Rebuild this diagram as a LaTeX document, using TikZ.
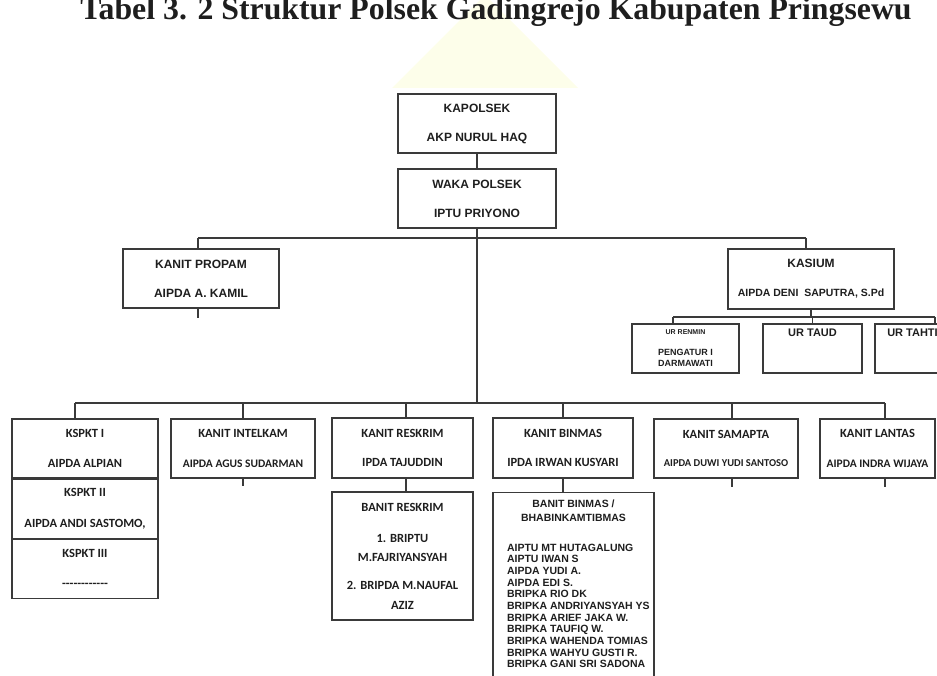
\documentclass[tikz,border=0pt]{standalone}
\usepackage{fontspec}
\setmainfont{Liberation Serif}
\newfontfamily\arialfont{Liberation Sans}
\newfontfamily\calibfont{Carlito}
\definecolor{ink}{HTML}{1E1E1E}
\definecolor{edge}{HTML}{3A3A3A}
\definecolor{wmark}{RGB}{253,254,234}
\tikzset{
	box/.style={draw=edge,line width=1.1pt,inner sep=0pt,align=center,text=ink},
	topfont/.style={font=\arialfont\bfseries\fontsize{12}{14}\selectfont},
	lowfont/.style={font=\calibfont\bfseries\fontsize{12.5}{15}\selectfont},
	link/.style={draw=edge,line width=1.1pt},
}
\begin{document}
\begin{tikzpicture}[x=1pt,y=-1pt]
			\clip (0,0) rectangle (937,676);
			\fill[wmark] (485,-5) -- (578,88) -- (392,88) -- cycle;
			\node[anchor=base,text=ink,font=\bfseries\fontsize{31.8}{36}\selectfont] (title) at (496,19.5) {Tabel 3. 2 Struktur Polsek Gadingrejo Kabupaten Pringsewu};
			%TOP
			\node[box,topfont,minimum width=158pt,minimum height=59pt] (kapolsek) at (477,123.5) {KAPOLSEK\\[15pt]AKP NURUL HAQ};
			\node[box,topfont,minimum width=158pt,minimum height=59pt] (waka) at (477,198.5) {WAKA POLSEK\\[15pt]IPTU PRIYONO};
			\node[box,topfont,minimum width=156pt,minimum height=59pt] (propam) at (201,278.5) {KANIT PROPAM\\[15pt]AIPDA A. KAMIL};
			\node[box,topfont,minimum width=166pt,minimum height=60pt] (kasium) at (811,279) {KASIUM\\[15pt]{\fontsize{10.5}{12}\selectfont AIPDA DENI\ \ SAPUTRA, S.Pd}};
			\draw[link] (kapolsek) -- (waka);
			\coordinate (topbusL) at (198,238);
			\coordinate (topbusR) at (806,238);
			\draw[link] (topbusL) -- (topbusR);
			\draw[link] (topbusL) -- (topbusL |- propam.north);
			\draw[link] (topbusR) -- (topbusR |- kasium.north);
			\draw[link] (topbusL |- propam.south) -- ++(0,9);
			%KASIUM
			\node[box,font=\arialfont\bfseries\fontsize{9}{11}\selectfont,minimum width=107pt,minimum height=49pt] (renmin) at (685.5,348.5) {{\fontsize{7}{8}\selectfont UR RENMIN}\\[10pt]PENGATUR I\\DARMAWATI};
			\node[box,font=\arialfont\bfseries\fontsize{11}{13}\selectfont,minimum width=99pt,minimum height=49pt,text height=12pt,text depth=37pt] (taud) at (812.5,348.5) {UR TAUD};
			\node[box,font=\arialfont\bfseries\fontsize{11}{13}\selectfont,minimum width=75pt,minimum height=49pt,text height=12pt,text depth=37pt] (tahti) at (912.5,348.5) {UR TAHTI};
			\coordinate (urbusL) at (673,317);
			\coordinate (urbusR) at (935,317);
			\draw[link] (kasium.south) -- (kasium.south |- urbusL);
			\draw[link] (urbusL) -- (urbusR);
			\draw[link] (urbusL) -- (urbusL |- renmin.north);
			\draw[link] (taud.north |- urbusL) -- (taud.north);
			\draw[link] (urbusR) -- (urbusR |- tahti.north);
			%BOTTOM ROW
			\node[box,lowfont,minimum width=146pt,minimum height=59pt] (kspktA) at (85,448.5) {KSPKT I\\[15pt]AIPDA ALPIAN};
			\node[box,lowfont,minimum width=146pt,minimum height=59pt,anchor=north] (kspktB) at (kspktA.south) {KSPKT II\\[16pt]AIPDA ANDI SASTOMO,};
			\node[box,lowfont,minimum width=146pt,minimum height=59pt,anchor=north] (kspktC) at (kspktB.south) {KSPKT III\\[15pt]------------};
			\node[box,lowfont,minimum width=144pt,minimum height=59pt] (intelkam) at (243,448.5) {KANIT INTELKAM\\[15pt]{\fontsize{11.5}{13}\selectfont AIPDA AGUS SUDARMAN}};
			\node[box,lowfont,minimum width=141pt,minimum height=60pt] (reskrim) at (402.5,448) {KANIT RESKRIM\\[14pt]IPDA TAJUDDIN};
			\node[box,lowfont,minimum width=141pt,minimum height=128pt] (banitres) at (402.5,556) {BANIT RESKRIM\\[16pt]1. BRIPTU\\[4pt]M.FAJRIYANSYAH\\[13pt]2. BRIPDA M.NAUFAL\\[5pt]AZIZ};
			\node[box,lowfont,minimum width=140pt,minimum height=60pt] (binmas) at (563,448) {KANIT BINMAS\\[14pt]IPDA IRWAN KUSYARI};
			\node[box,anchor=north,minimum width=161pt,minimum height=200pt,font=\arialfont\bfseries\fontsize{10.5}{11.65}\selectfont] (banitbin) at (573.5,492) {\parbox[t][186pt][t]{159pt}{\centering BANIT BINMAS /\\[2.35pt]BHABINKAMTIBMAS\par
				\vspace{18.35pt}\raggedright\leftskip=13pt\rightskip=0pt plus 1fil
				AIPTU MT HUTAGALUNG\\AIPTU IWAN S\\AIPDA YUDI A.\\AIPDA EDI S.\\BRIPKA RIO DK\\BRIPKA ANDRIYANSYAH YS\\BRIPKA ARIEF JAKA W.\\BRIPKA TAUFIQ W.\\BRIPKA WAHENDA TOMIAS\\BRIPKA WAHYU GUSTI R.\\BRIPKA GANI SRI SADONA\par}};
			\node[box,lowfont,minimum width=144pt,minimum height=59pt] (samapta) at (726,448.5) {KANIT SAMAPTA\\[13pt]{\fontsize{10.5}{12}\selectfont AIPDA DUWI YUDI SANTOSO}};
			\node[box,lowfont,minimum width=115pt,minimum height=59pt] (lantas) at (877.5,448.5) {KANIT LANTAS\\[15pt]{\fontsize{11.5}{13}\selectfont AIPDA INDRA WIJAYA}};
			\coordinate (lowbusL) at (75,403);
			\coordinate (lowbusR) at (885,403);
			\draw[link] (waka.south) -- (waka.south |- lowbusL);
			\draw[link] (lowbusL) -- (lowbusR);
			\draw[link] (lowbusL) -- (lowbusL |- kspktA.north);
			\draw[link] (intelkam.north |- lowbusL) -- (intelkam.north);
			\draw[link] ([xshift=3.5pt]reskrim.north |- lowbusL) -- ([xshift=3.5pt]reskrim.north);
			\draw[link] (binmas.north |- lowbusL) -- (binmas.north);
			\draw[link] ([xshift=6pt]samapta.north |- lowbusL) -- ([xshift=6pt]samapta.north);
			\draw[link] (lowbusR) -- (lowbusR |- lantas.north);
			\draw[link] ([xshift=3.5pt]reskrim.south) -- ([xshift=3.5pt]banitres.north);
			\draw[link] (binmas.south) -- (binmas.south |- banitbin.north);
			%	ticks under boxes
			\draw[link] (intelkam.south) -- ++(0,7);
			\draw[link] ([xshift=6pt]samapta.south) -- ++(0,8);
			\draw[link] (lowbusR |- lantas.south) -- ++(0,8);
		\end{tikzpicture}
\end{document}
